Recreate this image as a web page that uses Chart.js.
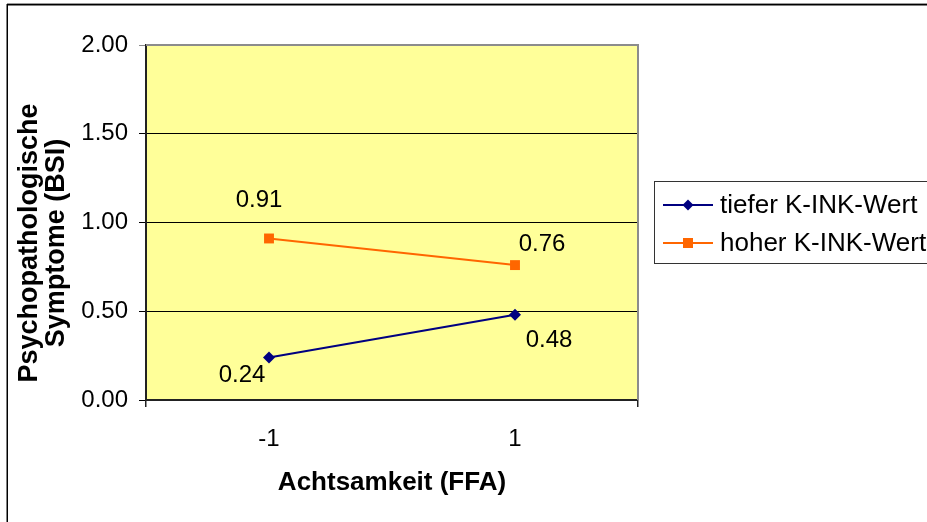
<!DOCTYPE html>
<html>
<head>
<meta charset="utf-8">
<script src="https://cdn.jsdelivr.net/npm/chart.js@4/dist/chart.umd.min.js"></script>
<style>
  html, body { margin: 0; padding: 0; background: #ffffff; }
  #wrap { width: 927px; height: 522px; }
</style>
</head>
<body>
<div id="wrap"><canvas id="c" width="927" height="522"></canvas></div>
<script>
// Achtsamkeit (FFA) vs. psychopathologische Symptome, getrennt nach K-INK-Wert
const categories = ['-1', '1'];
const seriesNames = ['tiefer K-INK-Wert', 'hoher K-INK-Wert'];
const tieferValues = [0.24, 0.48];
const hoherValues = [0.91, 0.76];
const yTicks = [0, 0.5, 1.0, 1.5, 2.0];
const yTitleLines = ['Psychopathologische', 'Symptome (BSI)'];
const xTitle = 'Achtsamkeit (FFA)';

// where each value label sits relative to its point (dx, dy in px)
const tieferLabelOffsets = [[-27, 18], [34, 26]];
const hoherLabelOffsets = [[-10, -38], [27, -21]];

const FONT = '"Liberation Sans", Arial, sans-serif';

// yellow plot area, grey top/right border and the outer frame lines
const backdrop = {
  id: 'backdrop',
  beforeDraw(chart) {
    const { ctx, chartArea: a } = chart;
    ctx.save();
    ctx.fillStyle = '#ffffff';
    ctx.fillRect(0, 0, chart.width, chart.height);
    // outer frame (top and left)
    ctx.fillStyle = '#9a9a9a';
    ctx.fillRect(7, 3, chart.width - 7, 1);
    ctx.fillStyle = '#000000';
    ctx.fillRect(7, 4, chart.width - 7, 1.5);
    ctx.fillRect(6.5, 4, 1.5, chart.height - 4);
    // plot area
    ctx.fillStyle = '#FFFF99';
    ctx.fillRect(a.left, a.top, a.right - a.left, a.bottom - a.top);
    ctx.restore();
  },
  beforeDatasetsDraw(chart) {
    const { ctx, chartArea: a } = chart;
    ctx.save();
    ctx.strokeStyle = '#8c8c8c';
    ctx.lineWidth = 2;
    ctx.beginPath();
    ctx.moveTo(a.left, a.top);
    ctx.lineTo(a.right, a.top);
    ctx.lineTo(a.right, a.bottom);
    ctx.stroke();
    ctx.restore();
  }
};

// rotated two-line title of the value axis
const yAxisTitle = {
  id: 'yAxisTitle',
  afterDraw(chart) {
    const { ctx } = chart;
    ctx.save();
    ctx.translate(30, 243);
    ctx.rotate(-Math.PI / 2);
    ctx.font = 'bold 27px ' + FONT;
    ctx.fillStyle = '#000000';
    ctx.textAlign = 'center';
    ctx.textBaseline = 'middle';
    yTitleLines.forEach((line, i) => ctx.fillText(line, 0, i * 27));
    ctx.restore();
  }
};

// value labels next to each point
const valueLabels = {
  id: 'valueLabels',
  afterDatasetsDraw(chart) {
    const { ctx } = chart;
    const offsets = [tieferLabelOffsets, hoherLabelOffsets];
    ctx.save();
    ctx.font = '24px ' + FONT;
    ctx.fillStyle = '#000000';
    ctx.textAlign = 'center';
    ctx.textBaseline = 'middle';
    chart.data.datasets.forEach((ds, di) => {
      const meta = chart.getDatasetMeta(di);
      meta.data.forEach((pt, i) => {
        const [dx, dy] = offsets[di][i];
        ctx.fillText(ds.data[i].toFixed(2), pt.x + dx, pt.y + dy);
      });
    });
    ctx.restore();
  }
};

// boxed legend to the right of the plot
const sideLegend = {
  id: 'sideLegend',
  afterDraw(chart) {
    const { ctx } = chart;
    const boxX = 654.5, boxY = 181.5, boxH = 82;
    const rowY = [205, 243];
    ctx.save();
    ctx.strokeStyle = '#333333';
    ctx.lineWidth = 1;
    ctx.strokeRect(boxX, boxY, chart.width + 10 - boxX, boxH);
    chart.data.datasets.forEach((ds, i) => {
      const y = rowY[i];
      ctx.strokeStyle = ds.borderColor;
      ctx.lineWidth = ds.borderWidth;
      ctx.beginPath();
      ctx.moveTo(663, y);
      ctx.lineTo(713, y);
      ctx.stroke();
      ctx.fillStyle = ds.pointBackgroundColor;
      ctx.beginPath();
      if (ds.pointStyle === 'rect') {
        ctx.rect(688 - 5, y - 5, 10, 10);
      } else {
        ctx.moveTo(688, y - 5.5);
        ctx.lineTo(693.5, y);
        ctx.lineTo(688, y + 5.5);
        ctx.lineTo(682.5, y);
        ctx.closePath();
      }
      ctx.fill();
      ctx.fillStyle = '#000000';
      ctx.font = '26px ' + FONT;
      ctx.textAlign = 'left';
      ctx.textBaseline = 'middle';
      ctx.fillText(ds.label, 720, y + 1);
    });
    ctx.restore();
  }
};

new Chart(document.getElementById('c'), {
  type: 'line',
  data: {
    labels: categories,
    datasets: [
      {
        label: seriesNames[0],
        data: tieferValues,
        borderColor: '#000080',
        backgroundColor: '#000080',
        pointBackgroundColor: '#000080',
        pointBorderColor: '#000080',
        borderWidth: 2,
        pointStyle: 'rectRot',
        pointRadius: 6,
        pointBorderWidth: 0,
        tension: 0
      },
      {
        label: seriesNames[1],
        data: hoherValues,
        borderColor: '#FF6600',
        backgroundColor: '#FF6600',
        pointBackgroundColor: '#FF6600',
        pointBorderColor: '#FF6600',
        borderWidth: 2,
        pointStyle: 'rect',
        pointRadius: 7,
        pointBorderWidth: 0,
        tension: 0
      }
    ]
  },
  options: {
    responsive: false,
    animation: false,
    devicePixelRatio: 1,
    layout: { padding: { left: 0, top: 45, right: 289, bottom: 0 } },
    plugins: {
      legend: { display: false },
      tooltip: { enabled: false }
    },
    scales: {
      x: {
        type: 'category',
        offset: true,
        afterFit(scale) { scale.height = 122; },
        grid: {
          offset: true,
          drawOnChartArea: false,
          drawTicks: true,
          tickLength: 7,
          lineWidth: 1.5,
          color: (ctx) => (ctx.index === 1 ? 'rgba(0,0,0,0)' : '#222222')
        },
        border: { display: true, color: '#222222', width: 2 },
        ticks: {
          color: '#000000',
          padding: 18,
          font: { family: FONT, size: 24 }
        },
        title: {
          display: true,
          text: xTitle,
          color: '#000000',
          font: { family: FONT, size: 26, weight: 'bold', lineHeight: 1.2 },
          padding: { top: 0, bottom: 24 }
        }
      },
      y: {
        min: 0,
        max: 2,
        afterFit(scale) { scale.width = 146; },
        afterBuildTicks(scale) {
          scale.ticks = yTicks.map((v) => ({ value: v }));
        },
        grid: {
          drawTicks: true,
          tickLength: 7,
          lineWidth: 1,
          color: (ctx) => (ctx.tick && ctx.tick.value === 2 ? '#8c8c8c' : '#000000')
        },
        border: { display: true, color: '#222222', width: 2 },
        ticks: {
          color: '#000000',
          padding: 11,
          font: { family: FONT, size: 24 },
          callback: (v) => Number(v).toFixed(2)
        },
        title: { display: false }
      }
    }
  },
  plugins: [backdrop, yAxisTitle, valueLabels, sideLegend]
});
</script>
</body>
</html>
